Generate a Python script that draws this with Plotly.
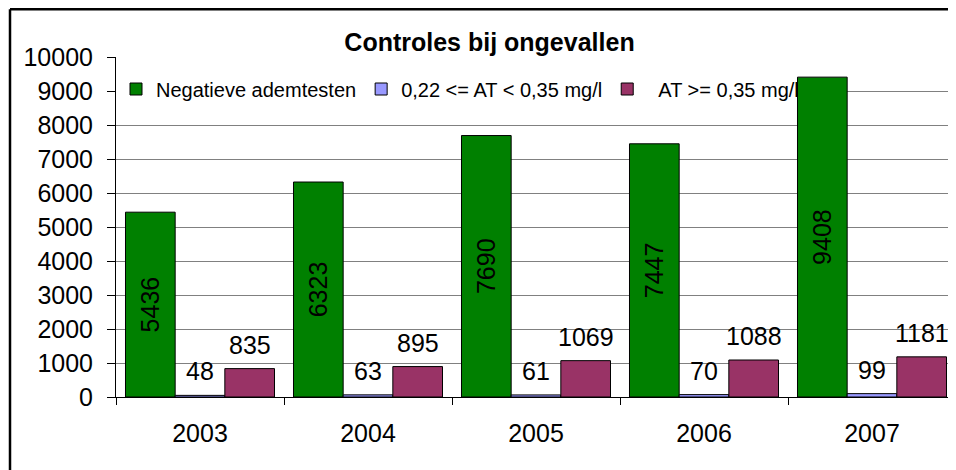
import plotly.graph_objects as go

years = ["2003", "2004", "2005", "2006", "2007"]
negatief = [5436, 6323, 7690, 7447, 9408]
tussen = [48, 63, 61, 70, 99]
boven = [835, 895, 1069, 1088, 1181]
names = ["Negatieve ademtesten",
         "0,22 &lt;= AT &lt; 0,35 mg/l",
         "\u00a0\u00a0AT &gt;= 0,35 mg/l"]
colors = ["#008000", "#9999FF", "#993366"]

FONT = "Liberation Sans, Arial, sans-serif"
BARGAP = 0.113

fig = go.Figure()
fig.add_trace(go.Bar(
    x=years, y=negatief, name=names[0], marker=dict(color=colors[0], line=dict(color="black", width=1)),
    text=[str(v) for v in negatief], textposition="inside", textangle=-90,
    insidetextanchor="middle", constraintext="none",
    textfont=dict(family=FONT, size=25, color="black"), hoverinfo="skip"))
fig.add_trace(go.Bar(
    x=years, y=tussen, name=names[1], marker=dict(color=colors[1], line=dict(color="black", width=1)),
    hoverinfo="skip"))
fig.add_trace(go.Bar(
    x=years, y=boven, name=names[2], marker=dict(color=colors[2], line=dict(color="black", width=1)),
    hoverinfo="skip"))

w = (1 - BARGAP) / 3
annotations = []
for j, series in [(1, tussen), (2, boven)]:
    for i, v in enumerate(series):
        annotations.append(dict(
            x=i + (j - 1) * w, y=v, xref="x", yref="y", text=str(v), showarrow=False,
            yanchor="bottom", xanchor="center", yshift=8,
            font=dict(family=FONT, size=25, color="black")))

# figure is drawn at an 8px page offset; layout coordinates below are figure coordinates
W, H = 948, 462
L, T = 108, 49
PW, PH = 840, 340
def px(xp):
    return (xp - L) / PW
def py(yp):
    return (T + PH - yp) / PH

shapes = [
    dict(type="line", xref="paper", yref="paper", x0=px(2), x1=px(W), y0=py(1.2), y1=py(1.2),
         line=dict(color="black", width=2.5), layer="above"),
    dict(type="line", xref="paper", yref="paper", x0=px(2), x1=px(2), y0=py(1.2), y1=py(H),
         line=dict(color="black", width=2.5), layer="above"),
    # white legend background patch (behind bars, over gridlines)
    dict(type="rect", xref="x", yref="y", x0=-0.5, x1=4 - (1 - BARGAP) / 2, y0=8750, y1=9300,
         fillcolor="white", line=dict(width=0), layer="between"),
]

fig.update_layout(
    width=W, height=H,
    margin=dict(l=L, r=W - L - PW, t=T, b=H - T - PH, pad=0),
    paper_bgcolor="white", plot_bgcolor="white",
    barmode="group", bargap=BARGAP, bargroupgap=0,
    font=dict(family=FONT, size=25, color="black"),
    title=dict(text="<b>Controles bij ongevallen</b>", x=481.5 / W, xanchor="center",
               y=1 - 34.5 / H, yanchor="middle", font=dict(family=FONT, size=25, color="black")),
    legend=dict(orientation="h", x=0, xanchor="left", y=py(81), yanchor="middle",
                bgcolor="rgba(0,0,0,0)", font=dict(family=FONT, size=20, color="black"),
                itemclick=False, itemdoubleclick=False, traceorder="normal"),
    showlegend=True,
    annotations=annotations,
    shapes=shapes,
    xaxis=dict(type="category", range=[-0.5, 4.5], showline=True, linecolor="black", linewidth=1,
               ticks="outside", tickson="boundaries", ticklen=7, tickcolor="black",
               ticklabelstandoff=14, showgrid=False, tickfont=dict(family=FONT, size=25)),
    yaxis=dict(range=[0, 10000], dtick=1000, tickformat="d", showline=True, linecolor="black",
               linewidth=1, ticks="outside", ticklen=8, tickcolor="black", showgrid=True,
               gridcolor="#808080", gridwidth=1, ticklabelstandoff=9, zeroline=False,
               tickfont=dict(family=FONT, size=25)),
)

fig.write_html("out.html")
